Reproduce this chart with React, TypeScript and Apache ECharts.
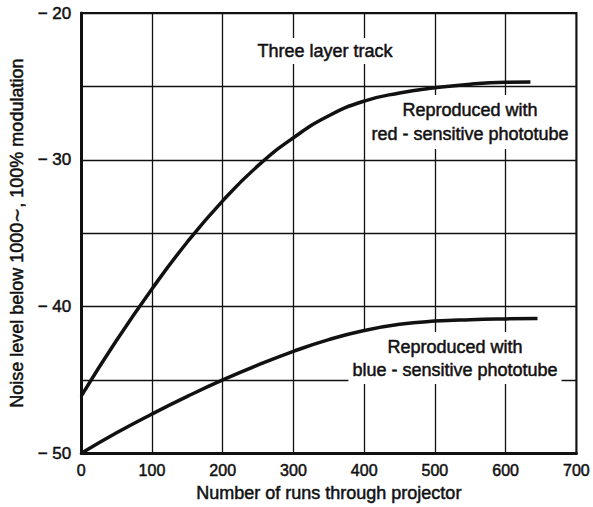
import React, { useEffect, useRef } from "react";
import * as echarts from "echarts";

// Runs through the projector (x) and noise level in dB (y)
const redRuns = [0, 50, 100, 150, 200, 250, 300, 350, 400, 450, 500, 550, 600, 635];
const redNoise = [-46.1, -42.3, -38.8, -35.6, -32.8, -30.4, -28.5, -27.0, -26.0, -25.45, -25.1, -24.85, -24.72, -24.7];

const blueRuns = [0, 50, 100, 150, 200, 250, 300, 350, 400, 450, 500, 550, 600, 645];
const blueNoise = [-50, -48.6, -47.32, -46.12, -45.0, -43.98, -43.05, -42.25, -41.63, -41.21, -40.99, -40.89, -40.84, -40.82];

const xTicks = { min: 0, max: 700, step: 100 };
const yTicks = { min: -50, max: -20, step: 5, labelEvery: 10 };

const FONT = "'Liberation Sans', Arial, sans-serif";
const INK = "#111";
// a thin outline in the ink colour gives the lettering a heavier, print-like weight
const heavy = { textBorderColor: INK, textBorderWidth: 0.5 };

export default function App() {
  const ref = useRef<HTMLDivElement>(null);

  useEffect(() => {
    if (!ref.current) return;
    const chart = echarts.init(ref.current, undefined, { renderer: "svg" });

    const pair = (xs: number[], ys: number[]) => xs.map((x, i) => [x, ys[i]]);

    const note = (text: string, x: number, y: number, lineHeight: number) => ({
      type: "text",
      x,
      y,
      z: 1,
      style: {
        text,
        fontFamily: FONT,
        fontSize: 18,
        lineHeight,
        fill: INK,
        stroke: INK,
        lineWidth: 0.5,
        align: "center",
        verticalAlign: "middle",
        backgroundColor: "#fff",
        padding: [3, 4],
      },
    });

    chart.setOption({
      animation: false,
      backgroundColor: "#fff",
      grid: {
        left: 79,
        right: 16,
        top: 13,
        bottom: 49,
        show: true,
        borderColor: INK,
        borderWidth: 2,
      },
      xAxis: {
        type: "value",
        min: xTicks.min,
        max: xTicks.max,
        interval: xTicks.step,
        name: "Number of runs through projector",
        nameLocation: "middle",
        nameGap: 24,
        nameTextStyle: { fontFamily: FONT, fontSize: 18, color: INK, ...heavy },
        axisLine: { show: true, lineStyle: { color: INK, width: 3 } },
        axisTick: { show: false },
        axisLabel: { fontFamily: FONT, fontSize: 16, color: INK, margin: 9, ...heavy },
        splitLine: { show: true, lineStyle: { color: INK, width: 1.3 } },
      },
      yAxis: {
        type: "value",
        min: yTicks.min,
        max: yTicks.max,
        interval: yTicks.step,
        name: "Noise level below 1000∼, 100% modulation",
        nameLocation: "middle",
        nameGap: 54,
        nameTextStyle: { fontFamily: FONT, fontSize: 18, color: INK, ...heavy },
        axisLine: { show: true, lineStyle: { color: INK, width: 3 } },
        axisTick: { show: false },
        axisLabel: {
          fontFamily: FONT,
          fontSize: 17,
          color: INK,
          margin: 10,
          ...heavy,
          formatter: (v: number) =>
            v % yTicks.labelEvery === 0 ? "\u2212 " + Math.abs(v) : "",
        },
        splitLine: { show: true, lineStyle: { color: INK, width: 1.3 } },
      },
      series: [
        {
          type: "line",
          name: "red-sensitive",
          data: pair(redRuns, redNoise),
          smooth: 0.5,
          symbol: "none",
          lineStyle: { color: INK, width: 3.5 },
          z: 5,
        },
        {
          type: "line",
          name: "blue-sensitive",
          data: pair(blueRuns, blueNoise),
          smooth: 0.5,
          symbol: "none",
          lineStyle: { color: INK, width: 3.5 },
          z: 5,
        },
      ],
      graphic: [
        note("Three layer track", 325, 51, 20),
        note("Reproduced with\nred - sensitive phototube", 470, 122, 24),
        note("Reproduced with\nblue - sensitive phototube", 455, 358, 23),
      ],
    });

    return () => chart.dispose();
  }, []);

  return (
    <div
      ref={ref}
      style={{ position: "fixed", left: 0, top: 0, width: 593, height: 507, background: "#fff" }}
    />
  );
}
